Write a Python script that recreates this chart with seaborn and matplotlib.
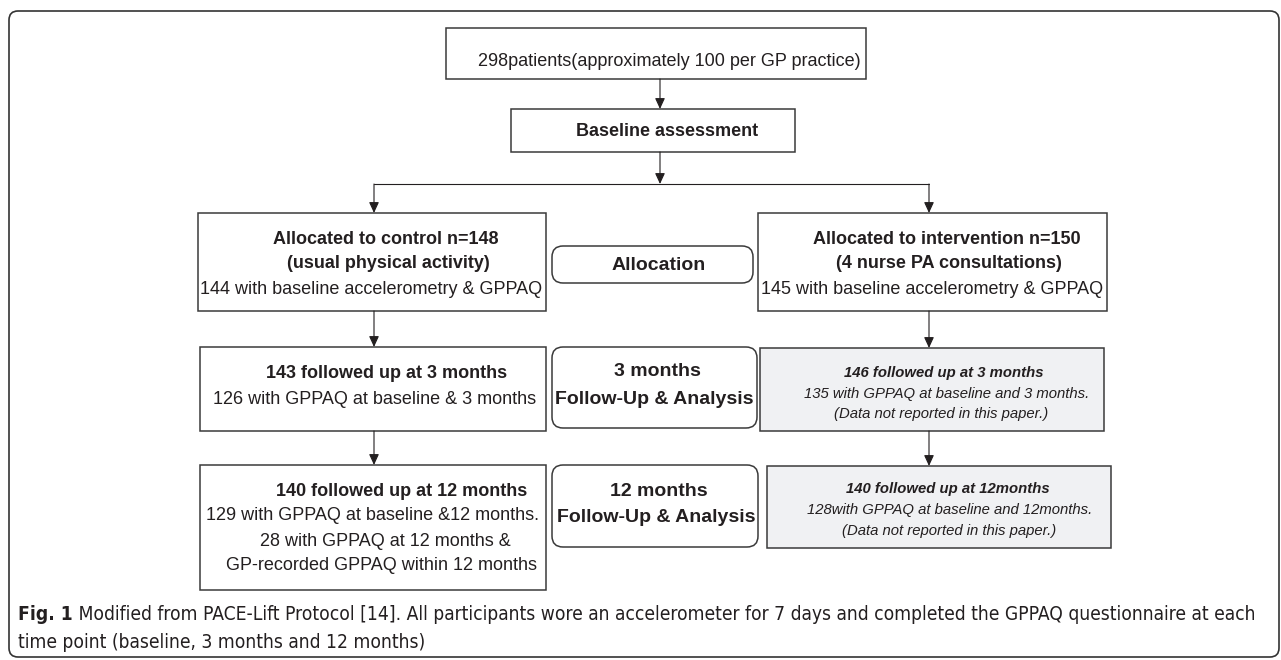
import matplotlib
matplotlib.use("Agg")
import matplotlib.pyplot as plt
from matplotlib import font_manager
from matplotlib.patches import FancyBboxPatch, Rectangle
import seaborn as sns

# participant numbers, [control, intervention]
n_patients = 298
n_allocated = [148, 150]
n_baseline = [144, 145]
n_followed_3m = [143, 146]
n_gppaq_3m = [126, 135]
n_followed_12m = [140, 140]
n_gppaq_12m = [129, 128]
n_gp_recorded_12m = 28

arm_names = ["control", "intervention"]
arm_descriptions = ["(usual physical activity)", "(4 nurse PA consultations)"]
stage_labels = ["Allocation", "3 months", "12 months"]
stage_sub = "Follow-Up & Analysis"
not_reported = "(Data not reported in this paper.)"

caption_bold = "Fig. 1"
caption_line1 = (" Modified from PACE-Lift Protocol [14]. All participants wore an accelerometer "
                 "for 7 days and completed the GPPAQ questionnaire at each")
caption_line2 = "time point (baseline, 3 months and 12 months)"

sns.set_theme(style="white")
plt.rcParams["font.family"] = ["Liberation Sans", "DejaVu Sans"]

INK = "#231f20"
EDGE = "#3a3a3a"
GREY = "#f0f1f3"

# the caption uses a narrow face when one is installed
installed = {f.name for f in font_manager.fontManager.ttflist}
cap_family = "Liberation Sans Narrow" if "Liberation Sans Narrow" in installed else "DejaVu Sans"

fig = plt.figure(figsize=(12.81, 6.6), dpi=100)
ax = fig.add_axes([0, 0, 1, 1])
ax.set_xlim(0, 1281)
ax.set_ylim(660, 0)
ax.axis("off")


def box(x0, y0, x1, y1, rounded=False, fill="white", lw=1.1):
    if rounded:
        p = FancyBboxPatch((x0, y0), x1 - x0, y1 - y0,
                           boxstyle="round,pad=0,rounding_size=11",
                           fc=fill, ec=EDGE, lw=lw)
    else:
        p = Rectangle((x0, y0), x1 - x0, y1 - y0, fc=fill, ec=EDGE, lw=lw)
    ax.add_patch(p)


def arrow(x, y0, y1):
    ax.annotate("", xy=(x, y1), xytext=(x, y0),
                arrowprops=dict(arrowstyle="-|>,head_length=0.65,head_width=0.3",
                                color=INK, lw=0.8, shrinkA=0, shrinkB=0,
                                mutation_scale=10))


def label(x, y, s, size=13, weight="normal", style="normal"):
    return ax.text(x, y, s, ha="center", va="center", fontsize=size,
                   fontweight=weight, fontstyle=style, color=INK)


# outer frame
ax.add_patch(FancyBboxPatch((9, 11), 1270, 646, boxstyle="round,pad=0,rounding_size=9",
                            fc="none", ec="#333333", lw=1.2))

# top of the flow
box(446, 28, 866, 79)
label(669, 62, f"{n_patients}patients(approximately 100 per GP practice)")
arrow(660, 79, 109)
box(511, 109, 795, 152)
label(667, 132, "Baseline assessment", weight="bold")
arrow(660, 152, 184)
ax.plot([374, 929], [184, 184], color=INK, lw=0.8)
arrow(374, 184, 213)
arrow(929, 184, 213)

# allocation row
box(198, 213, 546, 311)
box(758, 213, 1107, 311)
box(552, 246, 753, 283, rounded=True)
label(386, 239, f"Allocated to {arm_names[0]} n={n_allocated[0]}", weight="bold")
label(388, 264, arm_descriptions[0], weight="bold")
label(371, 290, f"{n_baseline[0]} with baseline accelerometry & GPPAQ")
label(947, 239, f"Allocated to {arm_names[1]} n={n_allocated[1]}", weight="bold")
label(949, 264, arm_descriptions[1], weight="bold")
label(932, 290, f"{n_baseline[1]} with baseline accelerometry & GPPAQ")
label(659, 266, stage_labels[0], size=14, weight="bold")

# 3 months row
arrow(374, 311, 347)
arrow(929, 311, 348)
box(200, 347, 546, 431)
box(552, 347, 757, 428, rounded=True)
box(760, 348, 1104, 431, fill=GREY)
label(387, 373, f"{n_followed_3m[0]} followed up at 3 months", weight="bold")
label(375, 399, f"{n_gppaq_3m[0]} with GPPAQ at baseline & 3 months")
label(657, 372, stage_labels[1], size=14, weight="bold")
label(654, 399, stage_sub, size=14, weight="bold")
label(944, 373, f"{n_followed_3m[1]} followed up at 3 months", size=10.7, weight="bold", style="italic")
label(947, 394, f"{n_gppaq_3m[1]} with GPPAQ at baseline and 3 months.", size=10.7, style="italic")
label(941, 414, not_reported, size=10.7, style="italic")

# 12 months row
arrow(374, 431, 465)
arrow(929, 431, 466)
box(200, 465, 546, 590)
box(552, 465, 758, 547, rounded=True)
box(767, 466, 1111, 548, fill=GREY)
label(402, 491, f"{n_followed_12m[0]} followed up at 12 months", weight="bold")
label(372, 516, f"{n_gppaq_12m[0]} with GPPAQ at baseline &12 months.")
label(385, 541, f"{n_gp_recorded_12m} with GPPAQ at 12 months &")
label(381, 566, "GP-recorded GPPAQ within 12 months")
label(659, 491, stage_labels[2], size=14, weight="bold")
label(656, 517, stage_sub, size=14, weight="bold")
label(948, 489, f"{n_followed_12m[1]} followed up at 12months", size=10.7, weight="bold", style="italic")
label(950, 510, f"{n_gppaq_12m[1]}with GPPAQ at baseline and 12months.", size=10.7, style="italic")
label(949, 531, not_reported, size=10.7, style="italic")

# caption, fitted to the width of the reference line
cap_kw = dict(family=cap_family, fontstretch="condensed", color=INK, va="center", ha="left")
t_bold = ax.text(18, 614, caption_bold, fontweight="bold", fontsize=14, **cap_kw)
t_rest = ax.text(60, 614, caption_line1, fontsize=14, **cap_kw)
t_two = ax.text(18, 642, caption_line2, fontsize=14, **cap_kw)
fig.canvas.draw()
r = fig.canvas.get_renderer()
w = t_bold.get_window_extent(r).width + t_rest.get_window_extent(r).width
scale = (1263 - 18) / w
for t in (t_bold, t_rest, t_two):
    t.set_fontsize(14 * scale)
fig.canvas.draw()
t_rest.set_x(18 + t_bold.get_window_extent(r).width)

fig.savefig("out.png", dpi=100)
